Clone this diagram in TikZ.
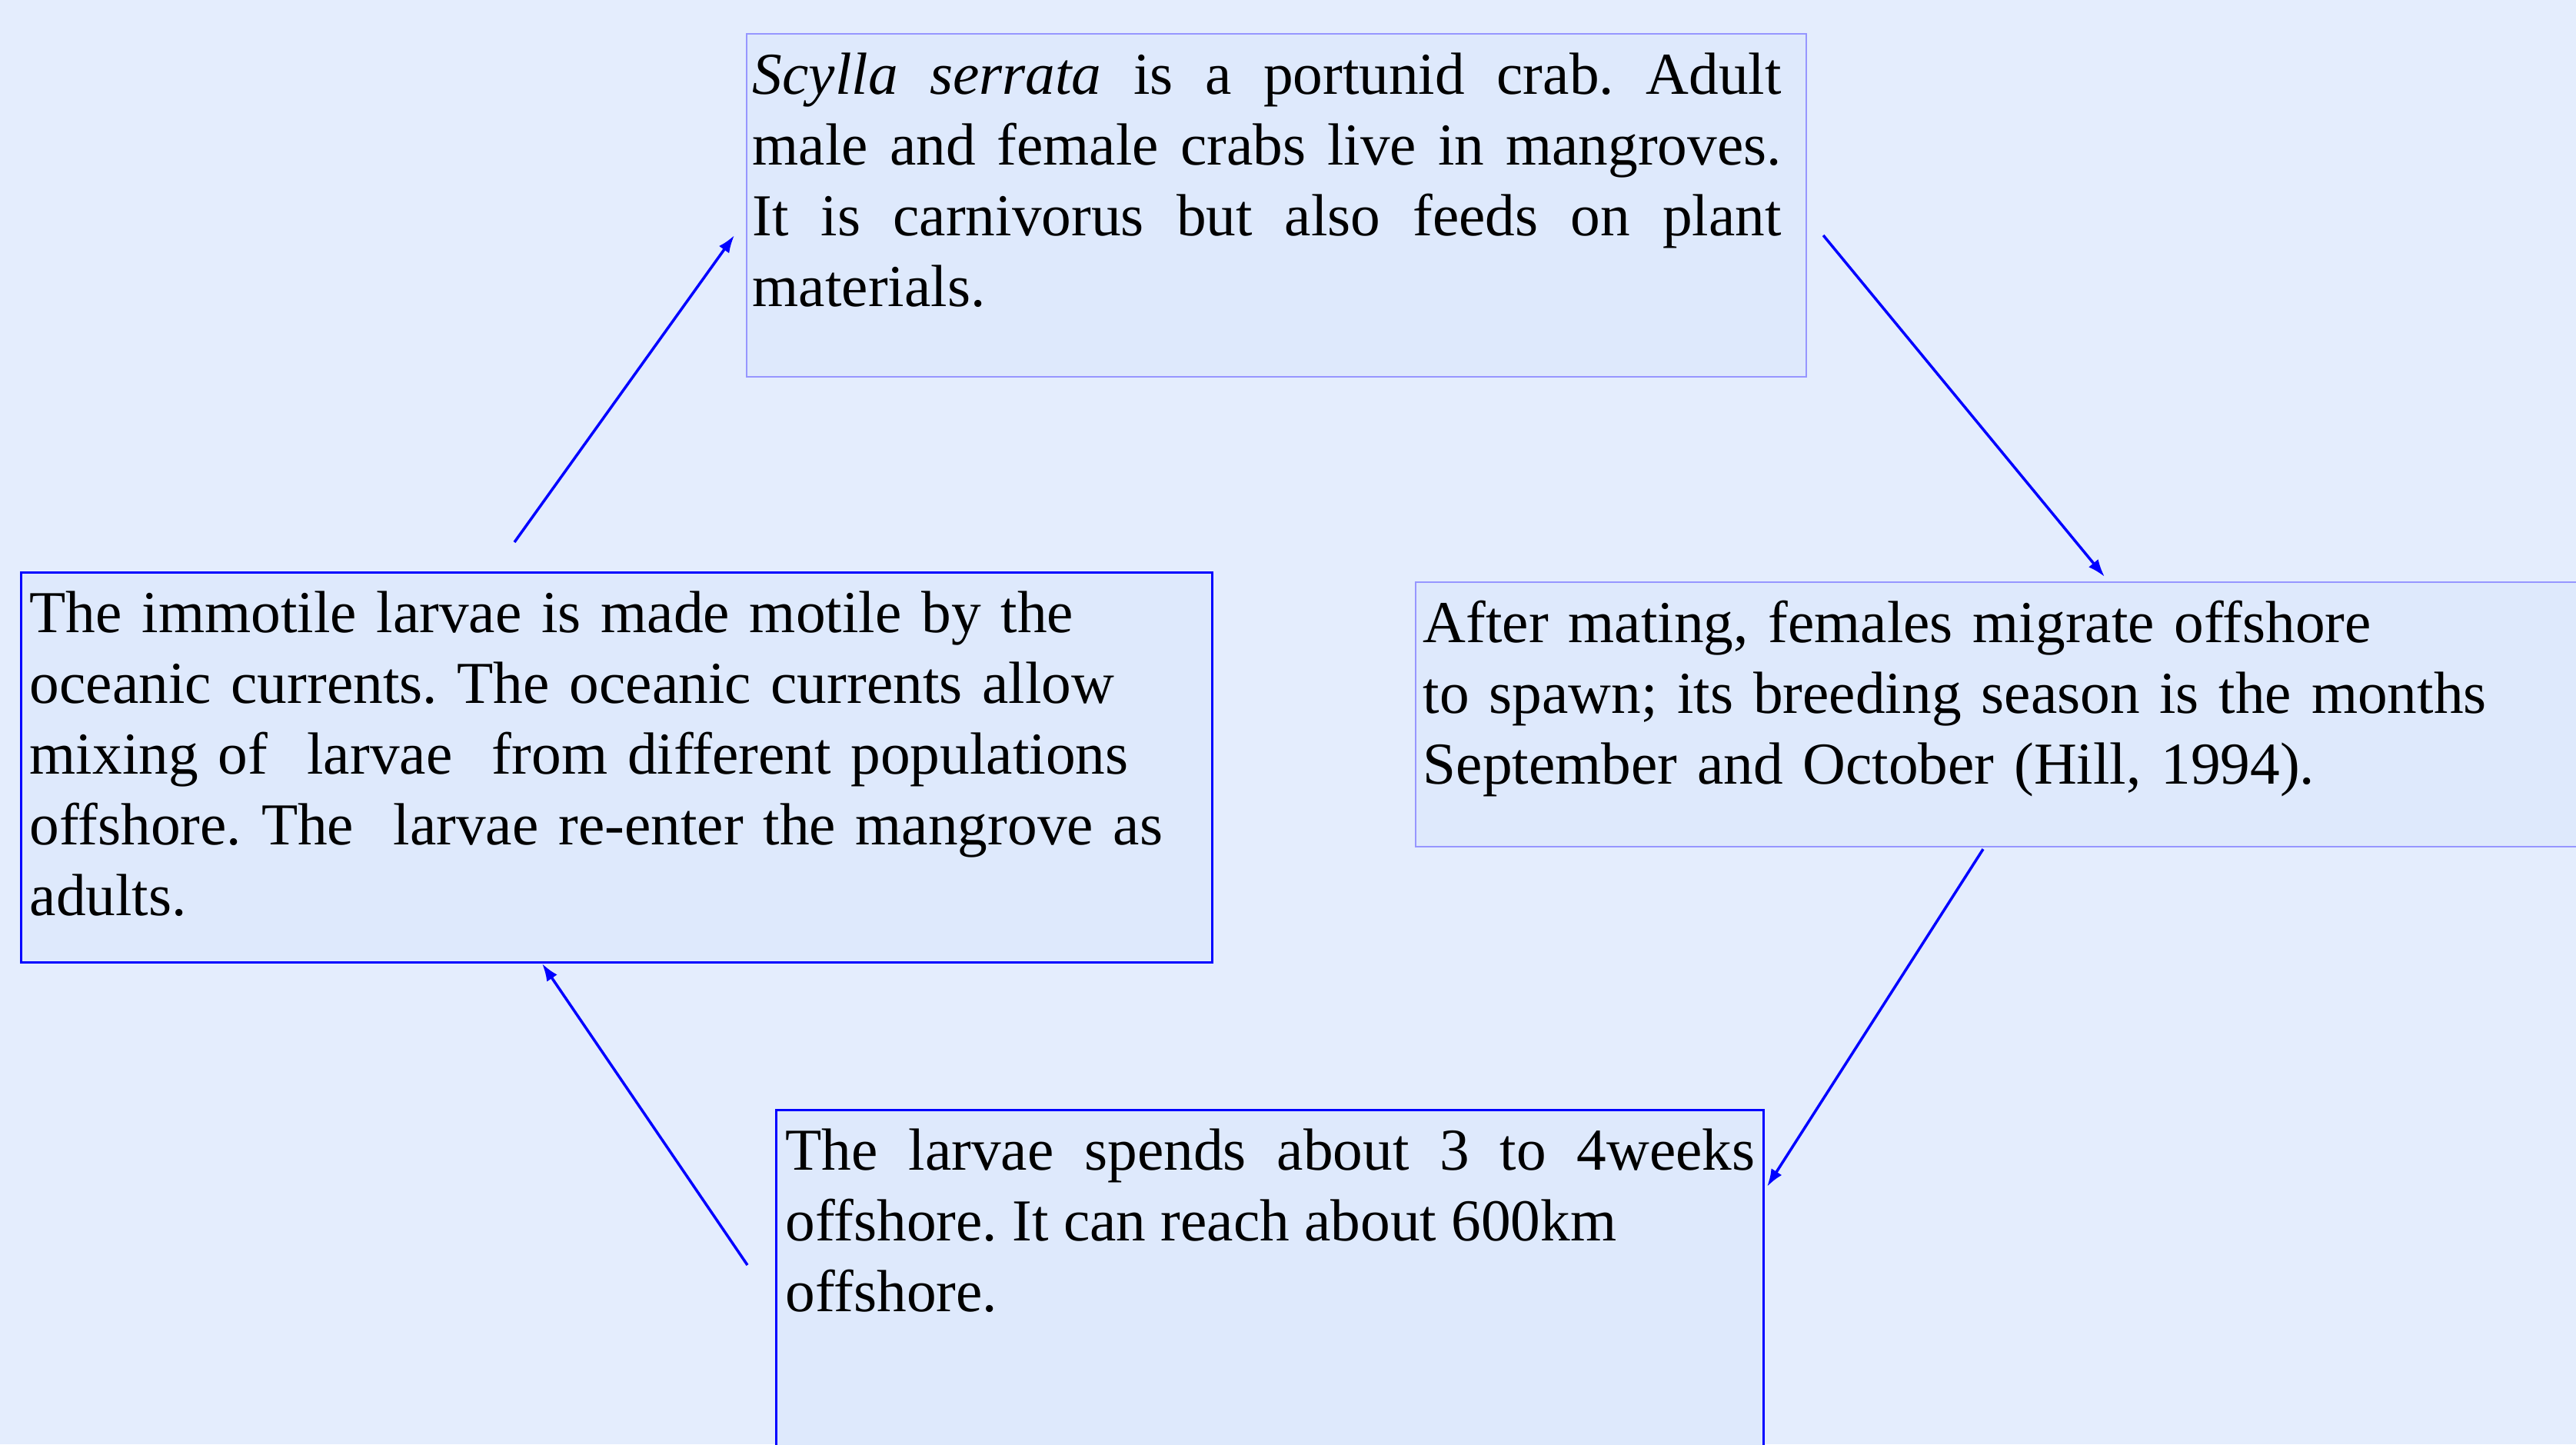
\documentclass[tikz,border=0pt]{standalone}
\usepackage{fontspec}
\setmainfont{Liberation Serif}
\usetikzlibrary{positioning}
\usetikzlibrary{arrows.meta}
\definecolor{seabg}{RGB}{228,237,253}
\definecolor{panelfill}{RGB}{222,233,252}
\definecolor{paleedge}{RGB}{150,150,255}
\tikzset{>={Latex[length=6.5pt,width=4.6pt]}}
\tikzstyle{panel} = [draw=paleedge, line width=0.6pt, fill=panelfill, inner sep=0pt, anchor=north west]
\tikzstyle{boldpanel} = [panel, draw=blue, line width=0.85pt]
\tikzstyle{blurb} = [anchor=base west, inner sep=0pt, font=\fontsize{22}{26.2}\selectfont]
\tikzstyle{flow} = [->, blue, line width=1pt]
\hbadness=10000
\frenchspacing

\begin{document}
\begin{tikzpicture}
\path [use as bounding box, fill=seabg] (0, 0) rectangle (33.5, -18.78);
% boxes
\node [panel, minimum width=13.78cm, minimum height=4.46cm] (adult) at (9.70, -0.43) {};
\node [panel, minimum width=15.4cm, minimum height=3.44cm] (spawn) at (18.40, -7.56) {};
\node [boldpanel, minimum width=15.49cm, minimum height=5.07cm] (mixing) at (0.26, -7.43) {};
\node [boldpanel, minimum width=12.84cm, minimum height=4.8cm] (larvae) at (10.08, -14.42) {};
% texts
\node [blurb, text width=13.38cm, align=justify] (adulttext) at ([shift={(0.08, -0.79)}]adult.north west)
  {\textit{Scylla serrata} is a portunid crab. Adult\linebreak male and female crabs live in mangroves.\linebreak It is carnivorus but also feeds on plant\linebreak materials.};
\node [blurb, text width=14.8cm, align=left] (spawntext) at ([shift={(0.10, -0.79)}]spawn.north west)
  {After mating, females migrate offshore\\ to spawn; its breeding season is the months\\ September and October (Hill, 1994).};
\node [blurb, text width=15.2cm, align=left] (mixingtext) at ([shift={(0.12, -0.79)}]mixing.north west)
  {The immotile larvae is made motile by the\\ oceanic currents. The oceanic currents allow\\ mixing of\ \ larvae\ \ from different populations\\ offshore. The\ \ larvae re-enter the mangrove as\\ adults.};
\node [blurb, text width=12.61cm, align=justify] (larvaetext) at ([shift={(0.13, -0.79)}]larvae.north west)
  {The larvae spends about 3 to 4weeks\linebreak offshore. It can reach about 600km\\ offshore.};
% cycle
\draw [flow] ([shift={(6.43, 0.38)}]mixing.north west) -- ([shift={(-0.15, -2.63)}]adult.north west);
\draw [flow] ([shift={(0.21, -2.63)}]adult.north east) -- ([shift={(8.97, 0.06)}]spawn.north west);
\draw [flow] ([shift={(7.39, -0.02)}]spawn.south west) -- ([shift={(0.03, -1.01)}]larvae.north east);
\draw [flow] ([shift={(-0.36, -2.03)}]larvae.north west) -- ([shift={(6.79, 0)}]mixing.south west);
\end{tikzpicture}
\end{document}
